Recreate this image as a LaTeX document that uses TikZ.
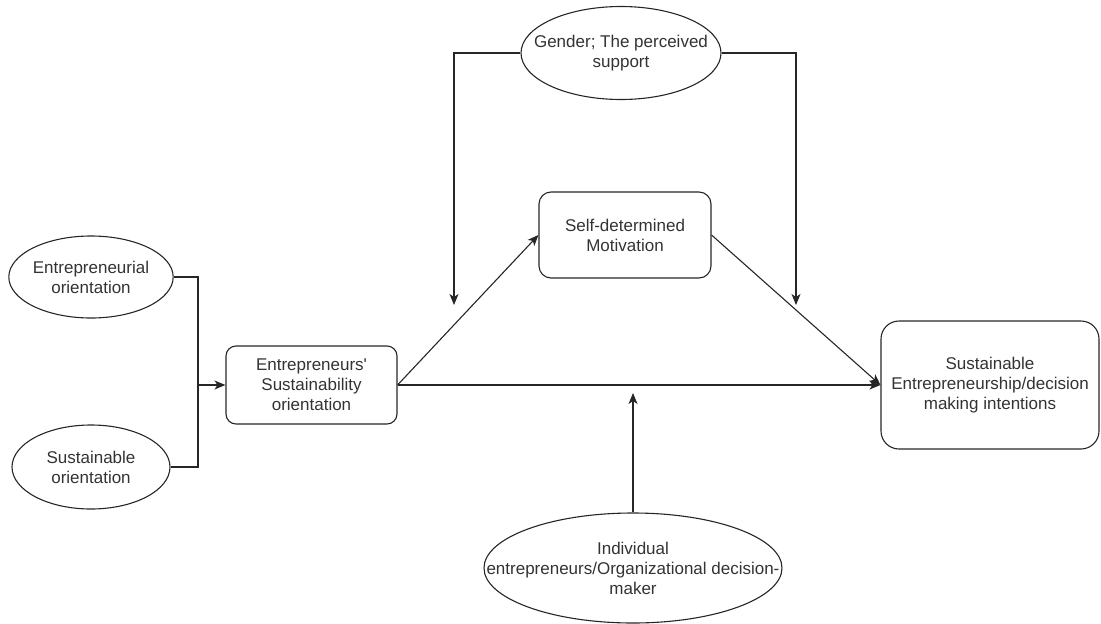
\documentclass[tikz,border=0pt]{standalone}
\usepackage{fontspec}
\setmainfont{Liberation Sans}
\usetikzlibrary{shapes.geometric,arrows.meta}
\begin{document}
\begin{tikzpicture}[x=1pt,y=-1pt,
  txt/.style={font=\fontsize{17}{20}\selectfont, text=black!80, align=center},
  every node/.style={txt, inner sep=0pt},
  oval/.style={ellipse, draw=black!85, line width=1.1pt},
  rbox/.style={rectangle, rounded corners=#1, draw=black!85, line width=1.1pt},
  rbox/.default=10pt,
  link/.style={draw=black!85, line width=1.1pt},
  arr/.style={link, -{Stealth[length=11pt,width=9pt,inset=3pt]}}]
\useasboundingbox (0,0) rectangle (1101,624);
\node[oval, minimum width=158pt, minimum height=82pt] (eo) at (91,277) {Entrepreneurial\\orientation};
\node[oval, minimum width=158pt, minimum height=84pt] (so) at (91,467) {Sustainable\\orientation};
\node[rbox, minimum width=171pt, minimum height=78pt] (eso) at (311.5,385) {Entrepreneurs\textquotesingle\\Sustainability\\orientation};
\node[rbox=12pt, minimum width=172pt, minimum height=86pt] (sdm) at (625,235) {Self-determined\\Motivation};
\node[oval, minimum width=200pt, minimum height=93pt,
  label={[txt]center:{Gender; The perceived\\support}}] (g) at (621,53) {};
\node[rbox=18pt, minimum width=218pt, minimum height=128pt] (se) at (990,385) {Sustainable\\Entrepreneurship/decision\\making intentions};
\node[oval, minimum width=298pt, minimum height=110pt,
  label={[txt]center:{Individual\\entrepreneurs/Organizational decision-\\maker}}] (ind) at (633,568) {};
\coordinate (j) at (198,385);
\coordinate (gl) at (454,305);
\coordinate (gr) at (796,305);
\coordinate (im) at (633,393);
\draw[link] (eo.east) -| (j);
\draw[link] (so.east) -| (j);
\draw[arr] (j) -- (eso.west);
\draw[arr] (g.west) -| (gl);
\draw[arr] (g.east) -| (gr);
\draw[arr] (eso.east) -- (sdm.west);
\draw[arr] (sdm.east) -- (se.west);
\draw[arr] (eso.east) -- (se.west);
\draw[arr] (ind.north) -- (im);
\end{tikzpicture}
\end{document}
